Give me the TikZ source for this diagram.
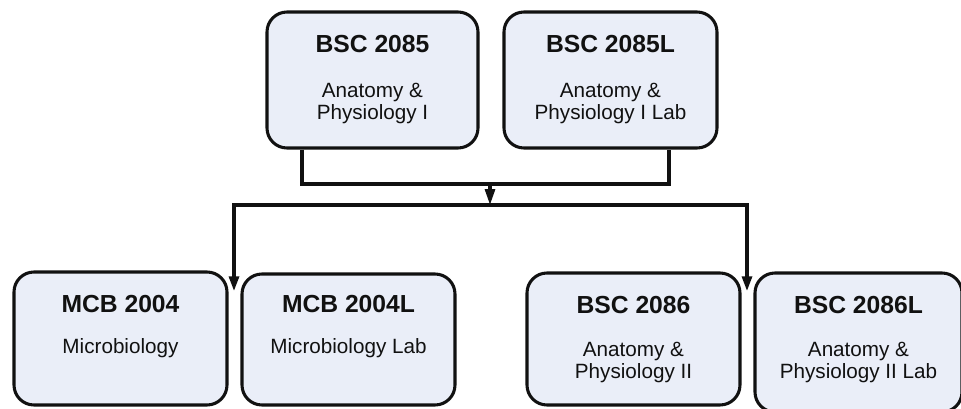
\documentclass[tikz,border=0pt]{standalone}
\usepackage{fontspec}
\setmainfont{Liberation Sans}
\usetikzlibrary{arrows.meta}
\definecolor{boxfill}{HTML}{EAEEF8}
\definecolor{ink}{HTML}{111111}
\begin{document}
\begin{tikzpicture}[x=0.75pt,y=-0.75pt,
  course/.style={draw=ink, fill=boxfill, line width=2.3pt, rounded corners=15pt, inner sep=0pt},
  ttl/.style={anchor=base, text=ink, font=\fontsize{18.5}{22}\selectfont\bfseries},
  sub/.style={anchor=base, text=ink, align=center, font=\fontsize{15.5}{16.5}\selectfont},
  conn/.style={draw=ink, line width=2.3pt},
  tip/.style={-{Triangle[length=12pt,width=7.5pt]}}]
\useasboundingbox (0,0) rectangle (961,408);
\begin{scope}
\clip (0,0) rectangle (961,408);
% top boxes
\node[course, minimum width=211*0.75pt, minimum height=136*0.75pt] (b1) at (372.5,80) {};
\node[course, minimum width=213*0.75pt, minimum height=136*0.75pt] (b2) at (610.5,80) {};
% bottom boxes
\node[course, minimum width=213*0.75pt, minimum height=133*0.75pt] (b3) at (120.5,338.5) {};
\node[course, minimum width=213*0.75pt, minimum height=131*0.75pt] (b4) at (348.5,339.5) {};
\node[course, minimum width=213*0.75pt, minimum height=132*0.75pt] (b5) at (633.5,339) {};
\node[course, minimum width=207*0.75pt, minimum height=139*0.75pt] (b6) at (858.5,342.5) {};
\end{scope}
% texts (multi-line nodes are anchored at the baseline of their last line)
\node[ttl] (t1) at (372.5,52) {BSC 2085};
\node[sub] (s1) at (372.5,119) {Anatomy \&\\Physiology I};
\node[ttl] (t2) at (610.5,52) {BSC 2085L};
\node[sub] (s2) at (610.5,119) {Anatomy \&\\Physiology I Lab};
\node[ttl] (t3) at (120.5,312) {MCB 2004};
\node[sub] (s3) at (120.5,353) {Microbiology};
\node[ttl] (t4) at (348.5,312) {MCB 2004L};
\node[sub] (s4) at (348.5,353) {Microbiology Lab};
\node[ttl] (t5) at (633.5,313) {BSC 2086};
\node[sub] (s5) at (633.5,378) {Anatomy \&\\Physiology II};
\node[ttl] (t6) at (858.5,313) {BSC 2086L};
\node[sub] (s6) at (858.5,378) {Anatomy \&\\Physiology II Lab};
% connectors
\coordinate (j1) at (302,184);
\coordinate (j2) at (669,184);
\coordinate (m1) at (490,184);
\coordinate (m2) at (490,205);
\coordinate (l) at (234,205);
\coordinate (r) at (747,205);
\coordinate (lt) at (234,291);
\coordinate (rt) at (747,291);
\draw[conn, line join=miter] (b1.south -| j1) -- (j1) -- (j2) -- (b2.south -| j2);
\draw[conn, tip] (m1) -- (m2);
\draw[conn, line join=miter, {Triangle[length=11pt,width=7.5pt]}-{Triangle[length=11pt,width=7.5pt]}] (lt) -- (l) -- (r) -- (rt);
\end{tikzpicture}
\end{document}
